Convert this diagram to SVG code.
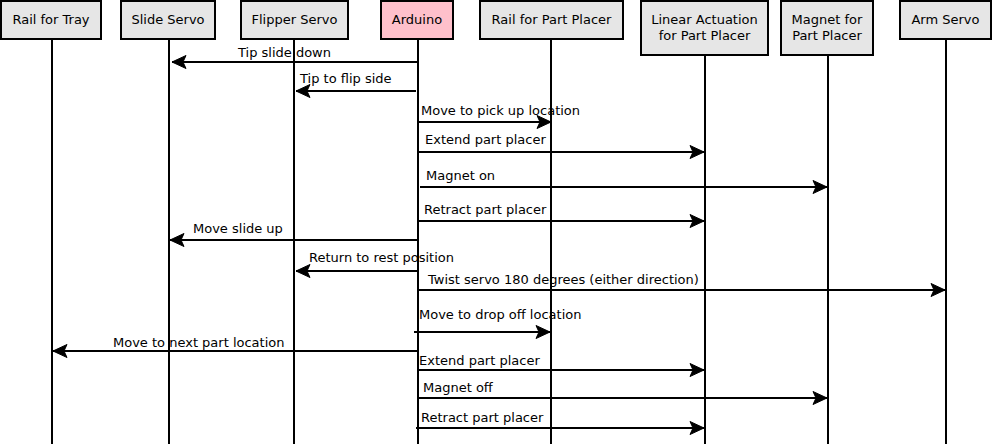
<svg xmlns="http://www.w3.org/2000/svg" width="993" height="444" viewBox="0 0 993 444">
<style>
.box{fill:#e6e6e6;stroke:#000;stroke-width:2}
.ard{fill:#ffc0cb;stroke:#000;stroke-width:2}
.life{stroke:#000;stroke-width:2}
.msg{stroke:#000;stroke-width:2;fill:none;marker-end:url(#ah)}
.head{fill:#000;stroke:#000;stroke-width:1}
text{font-family:"DejaVu Sans",sans-serif;font-size:13px;fill:#000}
.c{text-anchor:middle}
</style>
<defs>
<marker id="ah" markerUnits="userSpaceOnUse" markerWidth="16" markerHeight="16" refX="14" refY="6.5" orient="auto" overflow="visible">
<path class="head" d="M14,6.5 L0,0 L3,6.5 L0,13 Z"/>
</marker>
</defs>
<g id="lifelines">
<line class="life" x1="52" y1="39" x2="52" y2="444"/>
<line class="life" x1="169" y1="39" x2="169" y2="444"/>
<line class="life" x1="294" y1="39" x2="294" y2="444"/>
<line class="life" x1="418" y1="39" x2="418" y2="444"/>
<line class="life" x1="551" y1="39" x2="551" y2="444"/>
<line class="life" x1="705" y1="55" x2="705" y2="444"/>
<line class="life" x1="828" y1="55" x2="828" y2="444"/>
<line class="life" x1="946" y1="39" x2="946" y2="444"/>
</g>
<g id="n-rail-tray"><rect class="box" x="1" y="1" width="100" height="38"/><text class="c" x="51" y="24">Rail for Tray</text></g>
<g id="n-slide-servo"><rect class="box" x="121" y="1" width="94" height="38"/><text class="c" x="168" y="24">Slide Servo</text></g>
<g id="n-flipper-servo"><rect class="box" x="241" y="1" width="107" height="38"/><text class="c" x="294.5" y="24">Flipper Servo</text></g>
<g id="n-arduino"><rect class="ard" x="381" y="1" width="72" height="38"/><text class="c" x="417" y="24">Arduino</text></g>
<g id="n-rail-part"><rect class="box" x="480" y="1" width="143" height="38"/><text class="c" x="551.5" y="24">Rail for Part Placer</text></g>
<g id="n-linear"><rect class="box" x="641" y="1" width="127" height="54"/><text class="c" x="704.5" y="24">Linear Actuation</text><text class="c" x="704.5" y="40">for Part Placer</text></g>
<g id="n-magnet"><rect class="box" x="781" y="1" width="92" height="54"/><text class="c" x="827" y="24">Magnet for</text><text class="c" x="827" y="40">Part Placer</text></g>
<g id="n-arm"><rect class="box" x="900" y="1" width="91" height="38"/><text class="c" x="945.5" y="24">Arm Servo</text></g>
<g id="connectors">
<line class="msg" x1="418" y1="62" x2="172" y2="62"/>
<line class="msg" x1="416" y1="91" x2="296" y2="91"/>
<line class="msg" x1="418" y1="122" x2="551" y2="122"/>
<line class="msg" x1="418" y1="152" x2="704" y2="152"/>
<line class="msg" x1="420" y1="187" x2="827" y2="187"/>
<line class="msg" x1="418" y1="221" x2="704" y2="221"/>
<line class="msg" x1="418" y1="240" x2="170" y2="240"/>
<line class="msg" x1="418" y1="271" x2="296" y2="271"/>
<line class="msg" x1="418" y1="290" x2="945" y2="290"/>
<line class="msg" x1="414" y1="332" x2="550" y2="332"/>
<line class="msg" x1="418" y1="351" x2="53" y2="351"/>
<line class="msg" x1="418" y1="370" x2="704" y2="370"/>
<line class="msg" x1="418" y1="398" x2="827" y2="398"/>
<line class="msg" x1="416" y1="428" x2="704" y2="428"/>
</g>
<g id="labels">
<text x="238" y="57">Tip slide down</text>
<text x="300" y="83">Tip to flip side</text>
<text x="421" y="115">Move to pick up location</text>
<text x="425" y="144">Extend part placer</text>
<text x="426" y="180">Magnet on</text>
<text x="424" y="214">Retract part placer</text>
<text x="193" y="233">Move slide up</text>
<text x="309" y="262">Return to rest position</text>
<text x="428" y="284">Twist servo 180 degrees (either direction)</text>
<text x="419" y="319">Move to drop off location</text>
<text x="113" y="347">Move to next part location</text>
<text x="419" y="365">Extend part placer</text>
<text x="423" y="392">Magnet off</text>
<text x="421" y="422">Retract part placer</text>
</g>
</svg>
